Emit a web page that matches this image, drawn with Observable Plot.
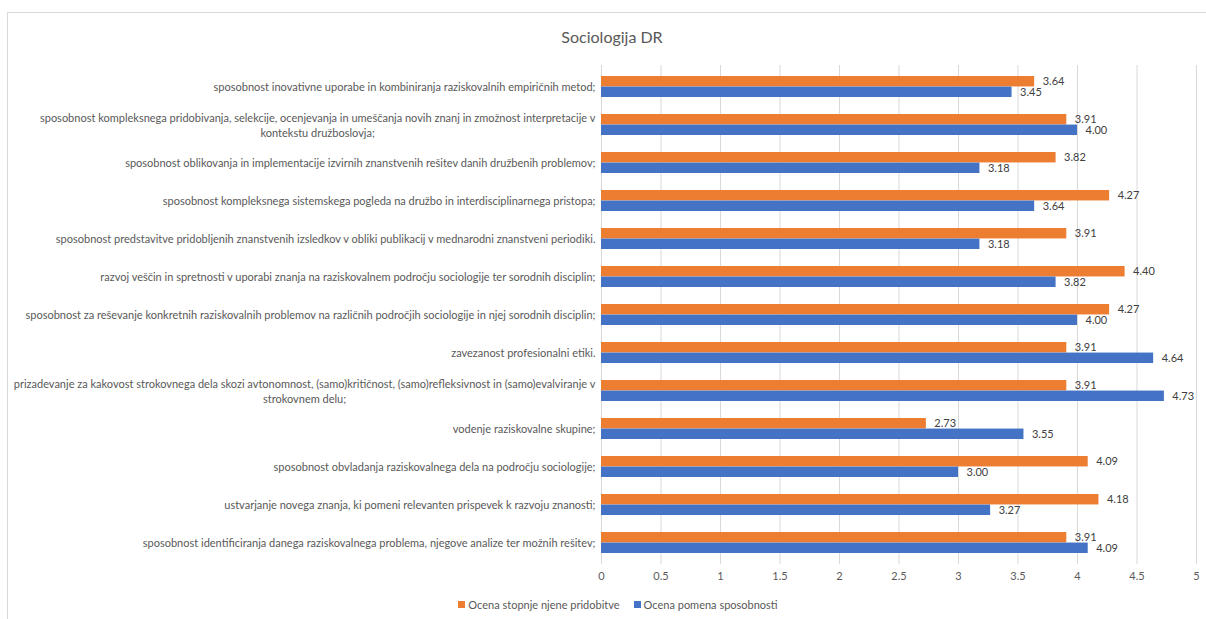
<!DOCTYPE html>
<html>
<head>
<meta charset="utf-8">
<script src="https://cdn.jsdelivr.net/npm/d3@7"></script>
<script src="https://cdn.jsdelivr.net/npm/@observablehq/plot@0.6"></script>
<style>
  html, body { margin: 0; padding: 0; background: #fff; width: 1206px; height: 619px; overflow: hidden; }
  body { position: relative; font-family: Lato, "Liberation Sans", sans-serif; }
  #frame { position: absolute; left: 7px; top: 12px; width: 1220px; height: 640px; border: 1px solid #d9d9d9; box-sizing: border-box; }
  #title { position: absolute; left: 0; width: 1224px; top: 26px; text-align: center; font-size: 16px; color: #595959; line-height: 22px; }
  #chart { position: absolute; left: 0; top: 55px; }
  #legend { position: absolute; left: 0; width: 1236px; top: 598px; display: flex; justify-content: center; gap: 14px; font-size: 11px; color: #595959; }
  #legend .item { display: flex; align-items: center; gap: 3px; }
  #legend .sw { width: 7px; height: 7px; display: inline-block; }
</style>
</head>
<body>
<div id="frame"></div>
<div id="title"></div>
<div id="chart"></div>
<div id="legend"></div>
<script>
const title = "Sociologija DR";
const categories = [
  "sposobnost inovativne uporabe in kombiniranja raziskovalnih empiričnih metod;",
  "sposobnost kompleksnega pridobivanja, selekcije, ocenjevanja in umeščanja novih znanj in zmožnost interpretacije v\nkontekstu družboslovja;",
  "sposobnost oblikovanja in implementacije izvirnih znanstvenih rešitev danih družbenih problemov;",
  "sposobnost kompleksnega sistemskega pogleda na družbo in interdisciplinarnega pristopa;",
  "sposobnost predstavitve pridobljenih znanstvenih izsledkov v obliki publikacij v mednarodni znanstveni periodiki.",
  "razvoj veščin in spretnosti v uporabi znanja na raziskovalnem področju sociologije ter sorodnih disciplin;",
  "sposobnost za reševanje konkretnih raziskovalnih problemov na različnih področjih sociologije in njej sorodnih disciplin;",
  "zavezanost profesionalni etiki.",
  "prizadevanje za kakovost strokovnega dela skozi avtonomnost, (samo)kritičnost, (samo)refleksivnost in (samo)evalviranje v\nstrokovnem delu;",
  "vodenje raziskovalne skupine;",
  "sposobnost obvladanja raziskovalnega dela na področju sociologije;",
  "ustvarjanje novega znanja, ki pomeni relevanten prispevek k razvoju znanosti;",
  "sposobnost identificiranja danega raziskovalnega problema, njegove analize ter možnih rešitev;"
];
const seriesNames = ["Ocena stopnje njene pridobitve", "Ocena pomena sposobnosti"];
const acquired = [3.64, 3.91, 3.82, 4.27, 3.91, 4.40, 4.27, 3.91, 3.91, 2.73, 4.09, 4.18, 3.91];
const importance = [3.45, 4.00, 3.18, 3.64, 3.18, 3.82, 4.00, 4.64, 4.73, 3.55, 3.00, 3.27, 4.09];
const xTicks = [0, 0.5, 1, 1.5, 2, 2.5, 3, 3.5, 4, 4.5, 5];
const colors = ["#ED7D31", "#4472C4"];

const rows = categories.map((c, i) => ({cat: c, a: acquired[i], b: importance[i]}));

const W = 1206, H = 533, mT = 10, mB = 24, mL = 601, mR = 10;
const padInner = 0.45;
const step = (H - mT - mB) / categories.length;
const bw = step * (1 - padInner);
const half = bw / 2;
const fontFamily = "Lato, 'Liberation Sans', sans-serif";
const fontSize = 11;

const ctx = document.createElement("canvas").getContext("2d");
ctx.font = `${fontSize}px ${fontFamily}`;

const single = rows.filter(d => !d.cat.includes("\n"));
const multi = rows.filter(d => d.cat.includes("\n"));

const labelMarks = [
  Plot.text(single, {y: "cat", text: "cat", frameAnchor: "left", textAnchor: "end", dx: -6, fill: "#595959"}),
  ...multi.map(d => {
    const w = Math.max(...d.cat.split("\n").map(s => ctx.measureText(s).width));
    return Plot.text([d], {y: "cat", text: "cat", frameAnchor: "left", textAnchor: "middle", dx: -6 - w / 2, lineHeight: 1.3, fill: "#595959"});
  })
];

const chart = Plot.plot({
  width: W, height: H,
  marginLeft: mL, marginRight: mR, marginTop: mT, marginBottom: mB,
  style: {fontFamily, fontSize: fontSize + "px", color: "#595959", background: "transparent", overflow: "visible"},
  x: {domain: [0, 5], ticks: xTicks, tickFormat: d => String(d), tickSize: 0, tickPadding: 8, label: null},
  y: {domain: categories, paddingInner: padInner, paddingOuter: padInner / 2, axis: null},
  marks: [
    Plot.ruleX(xTicks, {stroke: "#d9d9d9", strokeWidth: 1}),
    Plot.barX(rows, {y: "cat", x: "a", fill: colors[0], insetBottom: half}),
    Plot.barX(rows, {y: "cat", x: "b", fill: colors[1], insetTop: half}),
    Plot.text(rows, {y: "cat", x: "a", text: d => d.a.toFixed(2), dx: 8, dy: -half / 2, textAnchor: "start", fill: "#404040"}),
    Plot.text(rows, {y: "cat", x: "b", text: d => d.b.toFixed(2), dx: 8, dy: half / 2, textAnchor: "start", fill: "#404040"}),
    ...labelMarks
  ]
});
document.getElementById("chart").appendChild(chart);
document.getElementById("title").textContent = title;

const legend = document.getElementById("legend");
seriesNames.forEach((name, i) => {
  const item = document.createElement("span");
  item.className = "item";
  const sw = document.createElement("span");
  sw.className = "sw";
  sw.style.background = colors[i];
  const t = document.createElement("span");
  t.textContent = name;
  item.appendChild(sw); item.appendChild(t);
  legend.appendChild(item);
});
</script>
</body>
</html>
